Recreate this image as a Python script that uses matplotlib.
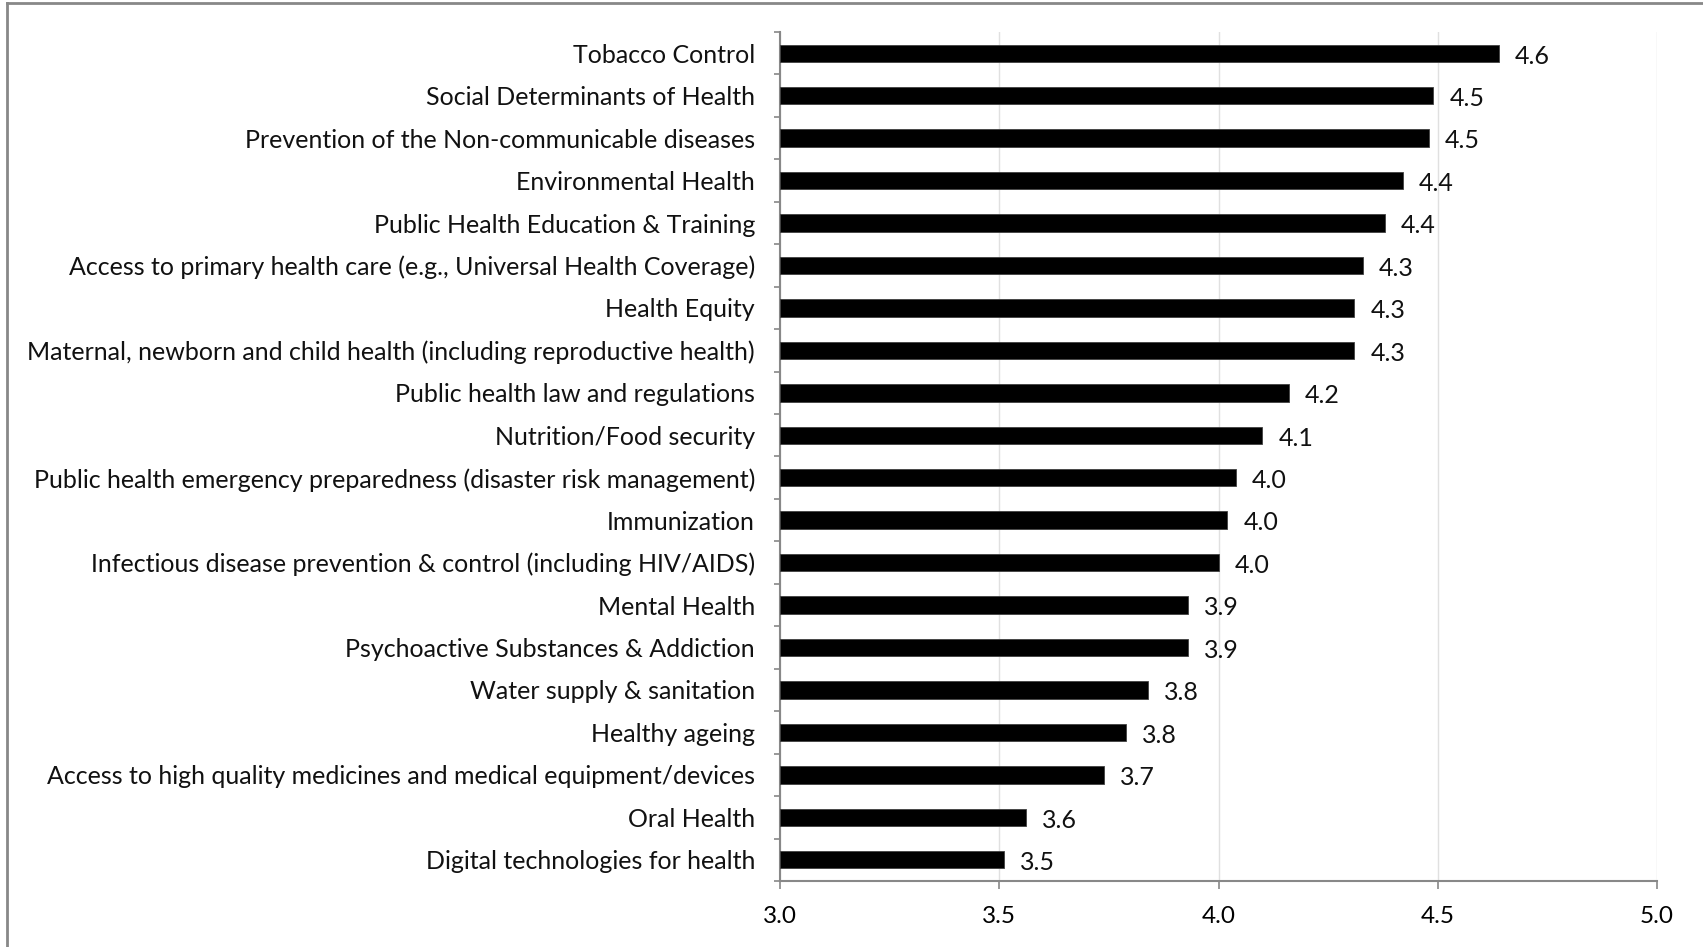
import matplotlib
matplotlib.use("Agg")
import matplotlib.pyplot as plt
from matplotlib.lines import Line2D

categories = [
    "Tobacco Control",
    "Social Determinants of Health",
    "Prevention of the Non-communicable diseases",
    "Environmental Health",
    "Public Health Education & Training",
    "Access to primary health care (e.g., Universal Health Coverage)",
    "Health Equity",
    "Maternal, newborn and child health (including reproductive health)",
    "Public health law and regulations",
    "Nutrition/Food security",
    "Public health emergency preparedness (disaster risk management)",
    "Immunization",
    "Infectious disease prevention & control (including HIV/AIDS)",
    "Mental Health",
    "Psychoactive Substances & Addiction",
    "Water supply & sanitation",
    "Healthy ageing",
    "Access to high quality medicines and medical equipment/devices",
    "Oral Health",
    "Digital technologies for health",
]
scores = [4.64, 4.49, 4.48, 4.42, 4.38, 4.33, 4.31, 4.31, 4.16, 4.10,
          4.04, 4.02, 4.00, 3.93, 3.93, 3.84, 3.79, 3.74, 3.56, 3.51]
x_ticks = [3.0, 3.5, 4.0, 4.5, 5.0]

plt.rcParams['font.family'] = ['Lato', 'DejaVu Sans']

fig = plt.figure(figsize=(17.03, 9.47), dpi=100, facecolor='white')
ax = fig.add_axes([780 / 1703, 1 - 881 / 947, 877 / 1703, 849 / 947])

ypos = list(range(len(categories)))
ax.barh(ypos, [s - 3.0 for s in scores], left=3.0, height=0.41,
        color='black', edgecolor='#404040', linewidth=0.6, zorder=3)

for y, s in zip(ypos, scores):
    ax.annotate(f"{s:.1f}", xy=(s, y), xytext=(11.5, -2), textcoords='offset points',
                ha='left', va='center', fontsize=18, color='#111111')

ax.set_xlim(3.0, 5.0)
ax.set_ylim(len(categories) - 0.5, -0.5)
ax.set_xticks(x_ticks)
ax.set_xticklabels([f"{t:.1f}" for t in x_ticks], fontsize=17.5)
ax.set_yticks(ypos)
ax.set_yticklabels(categories, fontsize=18, color='#111111')
ax.set_yticks([i - 0.5 for i in range(len(categories) + 1)], minor=True)

ax.tick_params(axis='y', which='major', length=0, pad=18)
ax.tick_params(axis='y', which='minor', length=4, color='#888888', width=1.2)
ax.tick_params(axis='x', which='major', length=6, color='#888888', width=1.2, pad=12)

ax.grid(axis='x', color='#e0e0e0', linewidth=1, zorder=0)
ax.set_axisbelow(True)
for side in ['top', 'right']:
    ax.spines[side].set_visible(False)
for side in ['left', 'bottom']:
    ax.spines[side].set_color('#888888')
    ax.spines[side].set_linewidth(1.5)

# outer frame (only left and top edges fall inside the picture)
fig.add_artist(Line2D([7 / 1703, 7 / 1703], [0, 1 - 3 / 947],
                      transform=fig.transFigure, color='#888888', linewidth=2))
fig.add_artist(Line2D([7 / 1703, 1], [1 - 3 / 947, 1 - 3 / 947],
                      transform=fig.transFigure, color='#888888', linewidth=2))

fig.savefig("out.png", dpi=100, facecolor='white')
